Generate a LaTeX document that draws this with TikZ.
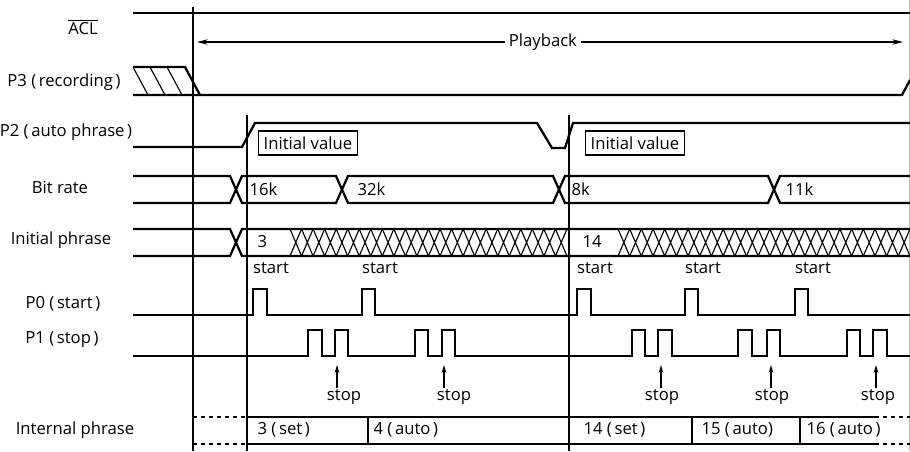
\documentclass[tikz,border=0pt]{standalone}
\usepackage{fontspec}
\setmainfont{Open Sans}
\usepackage{tikz}
\usetikzlibrary{arrows.meta}

\newcommand{\pgap}{\hspace{0.16em}}

\tikzset{
  sigline/.style={line width=1.7pt},
  guide/.style={line width=0.9pt},
  hatchline/.style={line width=0.85pt},
  lbl/.style={inner sep=1pt, font=\fontsize{12.5}{14}\selectfont},
  valbox/.style={lbl, draw, line width=0.9pt, anchor=west, minimum width=74pt, minimum height=18pt, inner sep=2pt},
  stoparrow/.style={line width=0.9pt, -{Stealth[length=6pt,width=3.5pt]}},
}

\begin{document}
\begin{tikzpicture}[x=0.75pt,y=-0.75pt]
\useasboundingbox (0,0) rectangle (910,451);

% signal names
\begin{scope}[every node/.style={lbl}]
    \node (acl)  at (83,27)  {$\overline{\mbox{ACL}}$};
    \node (p3)   at (64,82)  {P3 (\pgap recording\pgap)};
    \node (p2)   at (66,132) {P2 (\pgap auto phrase\pgap)};
    \node (bit)  at (60,187) {Bit rate};
    \node (init) at (61,240) {Initial phrase};
    \node (p0)   at (63,304) {P0 (\pgap start\pgap)};
    \node (p1)   at (62,340) {P1 (\pgap stop\pgap)};
    \node (intp) at (75,430) {Internal phrase};
\end{scope}

% time marks
\draw[guide] (193,7) -- (193,451);
\draw[guide] (247,115) -- (247,451);
\draw[guide] (569,115) -- (569,451);
\draw[gray!50, line width=0.5pt] (909.5,0) -- (909.5,451);

% ACL
\draw[sigline] (133,13) -- (910,13);
\coordinate (pbL) at (197,42);
\coordinate (pbR) at (903,42);
\draw[guide, {Stealth[length=8pt,width=4pt]}-{Stealth[length=8pt,width=4pt]}] (pbL) -- (pbR)
    node[lbl, pos=0.49, fill=white, inner xsep=3pt] (play) {Playback};

% P3
\draw[sigline] (133,67) -- (185,67) -- (200,95);
\draw[sigline] (133,95) -- (902,95) -- (910,80);
\foreach \x in {133,150,167}
    \draw[hatchline] (\x,67) -- ++(15,28);

% P2
\draw[sigline] (133,147) -- (242,147) -- (255,123) -- (537,123) -- (552,148) -- (565,148) -- (573,123) -- (910,123);
\node[valbox] (iv1) at (258,143) {Initial value};
\node[valbox] (iv2) at (585,143) {Initial value};

% bit rate
\draw[sigline] (133,176) -- (230,176) -- (242,203) -- (336,203) -- (348,176) -- (553,176) -- (565,203) -- (768,203) -- (780,176) -- (910,176);
\draw[sigline] (133,203) -- (230,203) -- (242,176) -- (336,176) -- (348,203) -- (553,203) -- (565,176) -- (768,176) -- (780,203) -- (910,203);
\node[lbl, anchor=west] (br1) at (248,189) {16k};
\node[lbl, anchor=west] (br2) at (356,189) {32k};
\node[lbl, anchor=west] (br3) at (570,189) {8k};
\node[lbl, anchor=west] (br4) at (784,189) {11k};

% initial phrase
\draw[sigline] (133,229) -- (230,229) -- (242,256) -- (910,256);
\draw[sigline] (133,256) -- (230,256) -- (242,229) -- (910,229);
\foreach \i in {0,...,23}
    \draw[hatchline] ({290+\i*11.54},229) -- ++(11.54,27) ({290+\i*11.54},256) -- ++(11.54,-27);
\foreach \i in {0,...,24}
    \draw[hatchline] ({618+\i*11.68},229) -- ++(11.68,27) ({618+\i*11.68},256) -- ++(11.68,-27);
\node[lbl, anchor=west] (ip1) at (256,242) {3};
\node[lbl, anchor=west] (ip2) at (581,242) {14};

% P0
\foreach \x [count=\i] in {253,362,577,685,795}
    \node[lbl] (start\i) at ({\x+18},268) {start};
\draw[sigline] (133,315) \foreach \a/\b in {253/267,362/375,577/591,685/698,795/808} { -- (\a,315) -- (\a,289) -- (\b,289) -- (\b,315) } -- (910,315);

% P1
\draw[sigline] (133,356) \foreach \a/\b in {308/322,335/348,415/428,442/455,632/645,658/672,738/752,767/780,847/860,873/887} { -- (\a,356) -- (\a,330) -- (\b,330) -- (\b,356) } -- (910,356);
\foreach \x/\lx [count=\i] in {337/344,444/454,661/662,771/772,876/878} {
    \coordinate (tip\i) at (\x,365);
    \node[lbl] (stop\i) at (\lx,397) {stop};
    \draw[stoparrow] (stop\i.north -| tip\i) -- (tip\i);
}

% internal phrase
\draw[guide, dashed] (193,417) -- (247,417);
\draw[guide, dashed] (193,444) -- (247,444);
\draw[guide] (247,417) -- (875,417);
\draw[guide] (247,444) -- (875,444);
\draw[guide, dashed] (875,417) -- (910,417);
\draw[guide, dashed] (875,444) -- (910,444);
\foreach \x in {368,692,800}
    \draw[guide] (\x,417) -- (\x,444);
\node[lbl, anchor=west] (ph1) at (256,430) {3 (\pgap set\pgap)};
\node[lbl, anchor=west] (ph2) at (372,430) {4 (\pgap auto\pgap)};
\node[lbl, anchor=west] (ph3) at (582,430) {14 (\pgap set\pgap)};
\node[lbl, anchor=west] (ph4) at (700,430) {15 (\pgap auto)};
\node[lbl, anchor=west] (ph5) at (805,430) {16 (\pgap auto\pgap)};
\end{tikzpicture}
\end{document}
